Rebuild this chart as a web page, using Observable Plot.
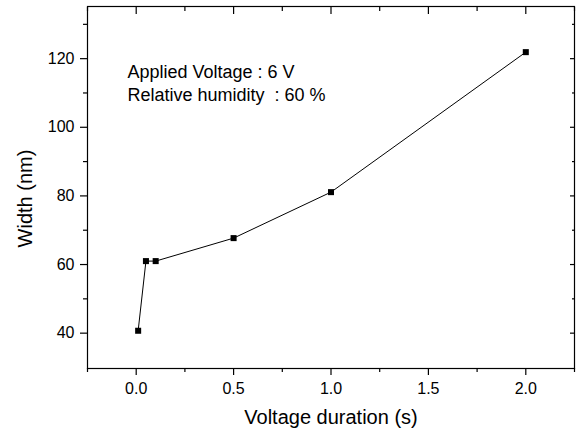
<!DOCTYPE html>
<html>
<head>
<meta charset="utf-8">
<script src="https://cdn.jsdelivr.net/npm/d3@7"></script>
<script src="https://cdn.jsdelivr.net/npm/@observablehq/plot@0.6"></script>
<style>
  html, body { margin: 0; padding: 0; background: white; }
  svg text { white-space: pre; }
</style>
</head>
<body>
<div id="chart"></div>
<script>
const durations = [0.01, 0.05, 0.1, 0.5, 1.0, 2.0];
const widths = [40.7, 61.0, 61.0, 67.7, 81.1, 121.9];
const xMajorTicks = [0, 0.5, 1.0, 1.5, 2.0];
const xMinorTicks = [-0.25, 0.25, 0.75, 1.25, 1.75, 2.25];
const yMajorTicks = [40, 60, 80, 100, 120];
const yMinorTicks = [50, 70, 90, 110, 130];
const xTitle = "Voltage duration (s)";
const yTitle = "Width (nm)";
const annotation = "Applied Voltage : 6 V\nRelative humidity  : 60 %";

const data = durations.map((d, i) => ({duration: d, width: widths[i]}));
const blank = () => "";

const chart = Plot.plot({
  width: 579,
  height: 434,
  marginLeft: 87,
  marginRight: 5,
  marginTop: 6,
  marginBottom: 66,
  x: {domain: [-0.25, 2.25]},
  y: {domain: [29.7, 135.2]},
  style: {fontFamily: "Arial, 'Liberation Sans', sans-serif", background: "white", color: "black"},
  marks: [
    Plot.frame({stroke: "black", strokeWidth: 1.2}),
    Plot.axisX({ticks: xMajorTicks, tickSize: 7, tickPadding: 7, tickFormat: d => d.toFixed(1), fontSize: 16, label: null, strokeWidth: 1.2}),
    Plot.axisX({ticks: xMinorTicks, tickSize: 4, tickFormat: blank, label: null, strokeWidth: 1.2}),
    Plot.axisX({anchor: "top", ticks: xMajorTicks, tickSize: -7, tickFormat: blank, label: null, strokeWidth: 1.2}),
    Plot.axisX({anchor: "top", ticks: xMinorTicks, tickSize: -4, tickFormat: blank, label: null, strokeWidth: 1.2}),
    Plot.axisY({ticks: yMajorTicks, tickSize: 7, tickPadding: 6, fontSize: 16, label: null, strokeWidth: 1.2}),
    Plot.axisY({ticks: yMinorTicks, tickSize: 4, tickFormat: blank, label: null, strokeWidth: 1.2}),
    Plot.axisY({anchor: "right", ticks: yMajorTicks, tickSize: -5, tickFormat: blank, label: null, strokeWidth: 1.2}),
    Plot.axisY({anchor: "right", ticks: yMinorTicks, tickSize: -3, tickFormat: blank, label: null, strokeWidth: 1.2}),
    Plot.line(data, {x: "duration", y: "width", stroke: "black", strokeWidth: 1}),
    Plot.dot(data, {x: "duration", y: "width", symbol: "square", r: 3.4, fill: "black", stroke: "none"}),
    Plot.text([annotation], {frameAnchor: "top-left", dx: 40, dy: 55, textAnchor: "start", lineAnchor: "top", fontSize: 18, lineHeight: 1.28, fill: "black"}),
    Plot.text([xTitle], {frameAnchor: "bottom", dy: 49, textAnchor: "middle", lineAnchor: "middle", fontSize: 20, fill: "black"}),
    Plot.text([yTitle], {frameAnchor: "left", dx: -62, dy: 11, rotate: -90, textAnchor: "middle", lineAnchor: "middle", fontSize: 20, fill: "black"})
  ]
});
document.getElementById("chart").appendChild(chart);
</script>
</body>
</html>
